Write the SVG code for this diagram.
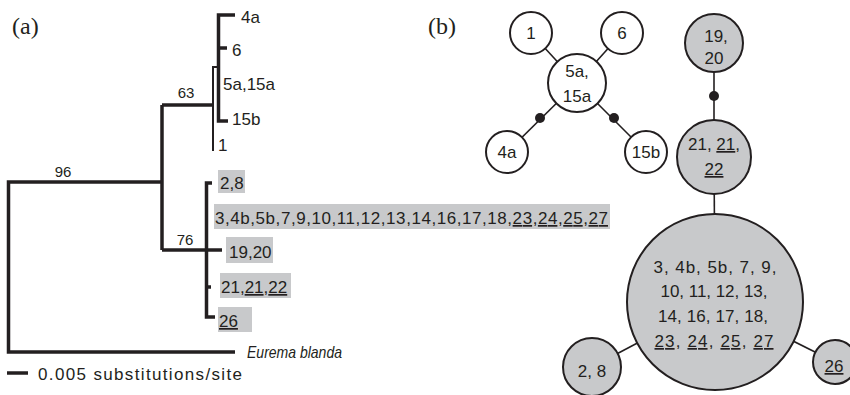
<svg xmlns="http://www.w3.org/2000/svg" width="850" height="395" viewBox="0 0 850 395">
<style>
.t{font-family:"Liberation Sans",Arial,sans-serif;font-size:17px;fill:#231f20}
.s{font-size:15px}
.m{text-anchor:middle}
.lab{font-family:"Liberation Serif","Times New Roman",serif;font-size:24px;fill:#231f20}
.br{fill:none;stroke:#231f20;stroke-width:3.5}
.thin{fill:none;stroke:#231f20;stroke-width:2}
.hl{fill:#c8c9cb}
.w{fill:#fff;stroke:#231f20;stroke-width:2}
.g{fill:#c8c9cb;stroke:#231f20;stroke-width:2}
.ln{stroke:#231f20;stroke-width:1.6}
.dot{fill:#231f20}
.u{text-decoration:underline}
</style>
<rect width="850" height="395" fill="#fff"/>
<text class="lab" x="12" y="34">(a)</text>
<text class="lab" x="428" y="34">(b)</text>

<g id="tree-connectors">
  <path class="br" d="M162,182 H8.5 V352 H235"/>
  <path class="br" d="M162,105 V250"/>
  <path class="br" d="M162,105 H213"/>
  <path class="br" d="M162,250 H222"/>
  <path class="br" d="M212,183 H206.5 V317 H215"/>
  <path class="br" d="M206.5,287 H211"/>
  <path class="thin" d="M213,151 V67 H218.5"/>
  <path class="br" d="M235,15 H218.5 V121 H228"/>
  <path class="br" d="M218.5,48 H227"/>
  <path class="br" d="M7,373 H28"/>
  <text class="t s m" x="63" y="177">96</text>
  <text class="t s m" x="186" y="98">63</text>
  <text class="t s m" x="185" y="245">76</text>
</g>

<g id="leaf-4a"><text class="t" x="241" y="23">4a</text></g>
<g id="leaf-6"><text class="t" x="232" y="56">6</text></g>
<g id="leaf-5a15a"><text class="t" x="223" y="90">5a,15a</text></g>
<g id="leaf-15b"><text class="t" x="232" y="125">15b</text></g>
<g id="leaf-1"><text class="t" x="218" y="151">1</text></g>
<g id="leaf-2-8"><rect class="hl" x="218" y="170" width="27" height="23"/><text class="t" x="220" y="189">2,8</text></g>
<g id="leaf-3"><rect class="hl" x="214" y="204" width="396" height="25"/><text class="t" x="215" y="224" textLength="393" lengthAdjust="spacing">3,4b,5b,7,9,10,11,12,13,14,16,17,18,<tspan class="u">23</tspan>,<tspan class="u">24</tspan>,<tspan class="u">25</tspan>,<tspan class="u">27</tspan></text></g>
<g id="leaf-19-20"><rect class="hl" x="226" y="237" width="47" height="26"/><text class="t" x="229" y="258">19,20</text></g>
<g id="leaf-21"><rect class="hl" x="220" y="273" width="71" height="25"/><text class="t" x="221" y="293">21,<tspan class="u">21</tspan>,<tspan class="u">22</tspan></text></g>
<g id="leaf-26"><rect class="hl" x="218" y="307" width="34" height="25"/><text class="t" x="219" y="327"><tspan class="u">26</tspan></text></g>
<g id="leaf-eurema"><text class="t" x="247" y="358" font-style="italic" textLength="95" lengthAdjust="spacingAndGlyphs">Eurema blanda</text></g>
<g id="scale"><text class="t" x="38" y="380" textLength="204" lengthAdjust="spacing">0.005 substitutions/site</text></g>

<g id="network-connectors">
  <line class="ln" x1="531" y1="33" x2="577" y2="83"/>
  <line class="ln" x1="622" y1="33" x2="577" y2="83"/>
  <line class="ln" x1="577" y1="83" x2="507" y2="152"/>
  <line class="ln" x1="577" y1="83" x2="646" y2="152"/>
  <line class="ln" x1="714" y1="43" x2="714" y2="157"/>
  <line class="ln" x1="714" y1="157" x2="715" y2="302"/>
  <line class="ln" x1="715" y1="302" x2="592" y2="367"/>
  <line class="ln" x1="715" y1="302" x2="835" y2="362"/>
  <circle class="dot" cx="540" cy="118" r="5"/>
  <circle class="dot" cx="614" cy="118" r="5"/>
  <circle class="dot" cx="714" cy="96" r="5"/>
</g>

<g id="n-1"><circle class="w" cx="531" cy="33" r="21"/><text class="t m" x="531" y="39">1</text></g>
<g id="n-6"><circle class="w" cx="622" cy="33" r="21"/><text class="t m" x="622" y="39">6</text></g>
<g id="n-5a"><circle class="w" cx="577" cy="83" r="29"/><text class="t m" x="577" y="77">5a,</text><text class="t m" x="577" y="102">15a</text></g>
<g id="n-4a"><circle class="w" cx="507" cy="152" r="21"/><text class="t m" x="507" y="158">4a</text></g>
<g id="n-15b"><circle class="w" cx="646" cy="152" r="21"/><text class="t m" x="646" y="158">15b</text></g>
<g id="n-19"><circle class="g" cx="714" cy="43" r="29"/><text class="t m" x="716" y="42">19,</text><text class="t m" x="714" y="64">20</text></g>
<g id="n-21"><circle class="g" cx="714" cy="157" r="37"/><text class="t m" x="714" y="150">21, <tspan class="u">21</tspan>,</text><text class="t m" x="714" y="175"><tspan class="u">22</tspan></text></g>
<g id="n-big"><circle class="g" cx="715" cy="302" r="88"/>
  <text class="t m" x="715" y="273" textLength="123" lengthAdjust="spacing">3, 4b, 5b, 7, 9,</text>
  <text class="t m" x="714" y="297" textLength="107" lengthAdjust="spacing">10, 11, 12, 13,</text>
  <text class="t m" x="713" y="322" textLength="110" lengthAdjust="spacing">14, 16, 17, 18,</text>
  <text class="t m" x="714" y="347" textLength="119" lengthAdjust="spacing"><tspan class="u">23</tspan>, <tspan class="u">24</tspan>, <tspan class="u">25</tspan>, <tspan class="u">27</tspan></text>
</g>
<g id="n-2-8"><circle class="g" cx="592" cy="367" r="29"/><text class="t m" x="592" y="377">2, 8</text></g>
<g id="n-26"><circle class="g" cx="835" cy="362" r="22"/><text class="t m" x="834" y="372"><tspan class="u">26</tspan></text></g>
</svg>
